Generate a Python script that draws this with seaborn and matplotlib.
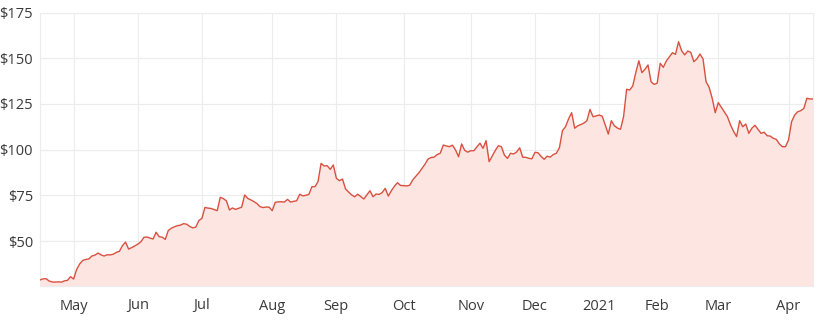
import numpy as np
import pandas as pd
import matplotlib
matplotlib.use("Agg")
import matplotlib.pyplot as plt
import seaborn as sns

# ---- data ----
start_date = "2020-04-16"
end_date = "2021-04-15"
market_holidays = ["2020-06-08", "2020-12-25", "2020-12-28", "2021-01-01",
                   "2021-01-26", "2021-04-02", "2021-04-05"]

prices = [
    28.7, 29.3, 29.4, 28.1, 27.6, 27.5, 27.7, 27.5, 28.2, 28.5,
    30.5, 29.2, 34.5, 37.5, 39.4, 39.9, 40.2, 41.8, 42.3, 43.4,
    42.4, 41.8, 42.5, 42.4, 42.8, 43.8, 44.4, 47.5, 49.4, 45.6,
    46.4, 47.3, 48.3, 49.5, 52.0, 52.2, 51.6, 51.1, 54.8, 52.4,
    52.1, 50.9, 55.8, 57.0, 57.8, 58.4, 58.7, 59.5, 59.2, 58.0,
    57.2, 57.6, 61.2, 62.4, 68.4, 68.0, 67.8, 67.2, 66.6, 73.9,
    73.2, 72.0, 67.0, 68.1, 67.3, 67.9, 68.5, 75.2, 73.3, 72.5,
    71.6, 70.5, 68.8, 68.3, 68.6, 68.5, 66.6, 71.2, 71.4, 71.5,
    71.3, 72.8, 71.3, 71.7, 72.0, 75.6, 74.7, 75.0, 75.5, 79.7,
    79.7, 82.5, 92.5, 91.0, 91.2, 89.2, 91.6, 84.3, 83.0, 83.9,
    78.5, 76.8, 75.2, 74.2, 75.6, 74.3, 73.0, 75.3, 77.5, 74.2,
    75.7, 75.5, 76.5, 78.8, 74.6, 77.5, 80.0, 81.9, 80.4, 80.3,
    80.1, 80.5, 83.4, 85.4, 87.3, 89.6, 92.0, 94.8, 95.7, 95.9,
    97.3, 98.0, 102.5, 102.0, 101.6, 102.4, 99.8, 96.1, 103.1, 99.6,
    98.6, 99.4, 99.4, 101.5, 103.5, 100.7, 104.9, 93.4, 96.5, 99.5,
    102.1, 101.6, 97.0, 95.2, 98.0, 97.6, 98.7, 101.0, 95.8, 95.8,
    95.2, 95.0, 98.5, 98.3, 96.3, 94.7, 96.4, 95.9, 97.3, 98.0,
    101.0, 110.4, 112.5, 116.8, 120.2, 111.7, 113.0, 113.7, 114.5, 115.8,
    122.0, 118.0, 118.4, 118.9, 118.3, 113.5, 108.5, 115.8, 113.0, 111.8,
    111.1, 118.0, 133.0, 132.6, 134.8, 142.1, 148.6, 142.1, 143.9, 146.3,
    137.1, 135.7, 136.3, 147.2, 145.0, 148.5, 150.8, 153.0, 152.1, 159.0,
    154.1, 151.8, 153.9, 153.2, 148.1, 149.6, 152.3, 149.6, 137.1, 134.1,
    128.1, 120.2, 125.7, 123.1, 120.5, 118.0, 113.5, 110.0, 107.1, 115.8,
    112.5, 114.0, 108.9, 111.7, 113.3, 111.1, 108.9, 109.5, 107.6, 107.4,
    106.2, 105.6, 103.1, 101.6, 101.6, 105.3, 115.3, 118.9, 120.7, 121.3,
    122.5, 128.1, 127.7, 127.7,
]

y_ticks = [50, 75, 100, 125, 150, 175]
y_tick_labels = ["$50", "$75", "$100", "$125", "$150", "$175"]

# ---- build trading-day frame ----
days = pd.bdate_range(start_date, end_date, freq="C", holidays=market_holidays)
n = min(len(days), len(prices))
df = pd.DataFrame({"date": days[:n], "price": prices[:n]})
df["idx"] = np.arange(n)

# month ticks at first trading day of each month
month_first = df.groupby([df["date"].dt.year, df["date"].dt.month])["idx"].min().values[1:]
tick_labels = []
for i in month_first:
    d = df["date"].iloc[i]
    tick_labels.append(str(d.year) if d.month == 1 else d.strftime("%b"))

# ---- plot ----
sns.set_theme(style="white")
plt.rcParams["font.family"] = ["Open Sans", "DejaVu Sans"]

line_color = "#d9503f"
fill_color = "#fde5e2"
grid_color = "#ececec"
text_color = "#3a3a3a"

fig = plt.figure(figsize=(8.25, 3.2), dpi=100)
ax = fig.add_axes([40 / 825, 1 - 286 / 320, (813 - 40) / 825, (286 - 12.5) / 320])

ymin, ymax = 25.4, 175
ax.fill_between(df["idx"], df["price"], ymin, color=fill_color, linewidth=0, zorder=1)
sns.lineplot(data=df, x="idx", y="price", ax=ax, color=line_color, linewidth=1.0, zorder=3)

ax.set_xlim(0, n - 1)
ax.set_ylim(ymin, ymax)
ax.set_yticks(y_ticks)
ax.set_yticklabels(y_tick_labels)
ax.set_xticks(month_first)
ax.set_xticklabels(tick_labels)
ax.set_xlabel("")
ax.set_ylabel("")

ax.grid(True, color=grid_color, linewidth=0.8, zorder=0)
ax.set_axisbelow(True)
for s in ax.spines.values():
    s.set_color(grid_color)
    s.set_linewidth(0.8)

ax.tick_params(axis="both", length=0, labelsize=10.5, colors=text_color)
ax.tick_params(axis="x", pad=9)
ax.tick_params(axis="y", pad=5)

fig.savefig("out.png", dpi=100)
